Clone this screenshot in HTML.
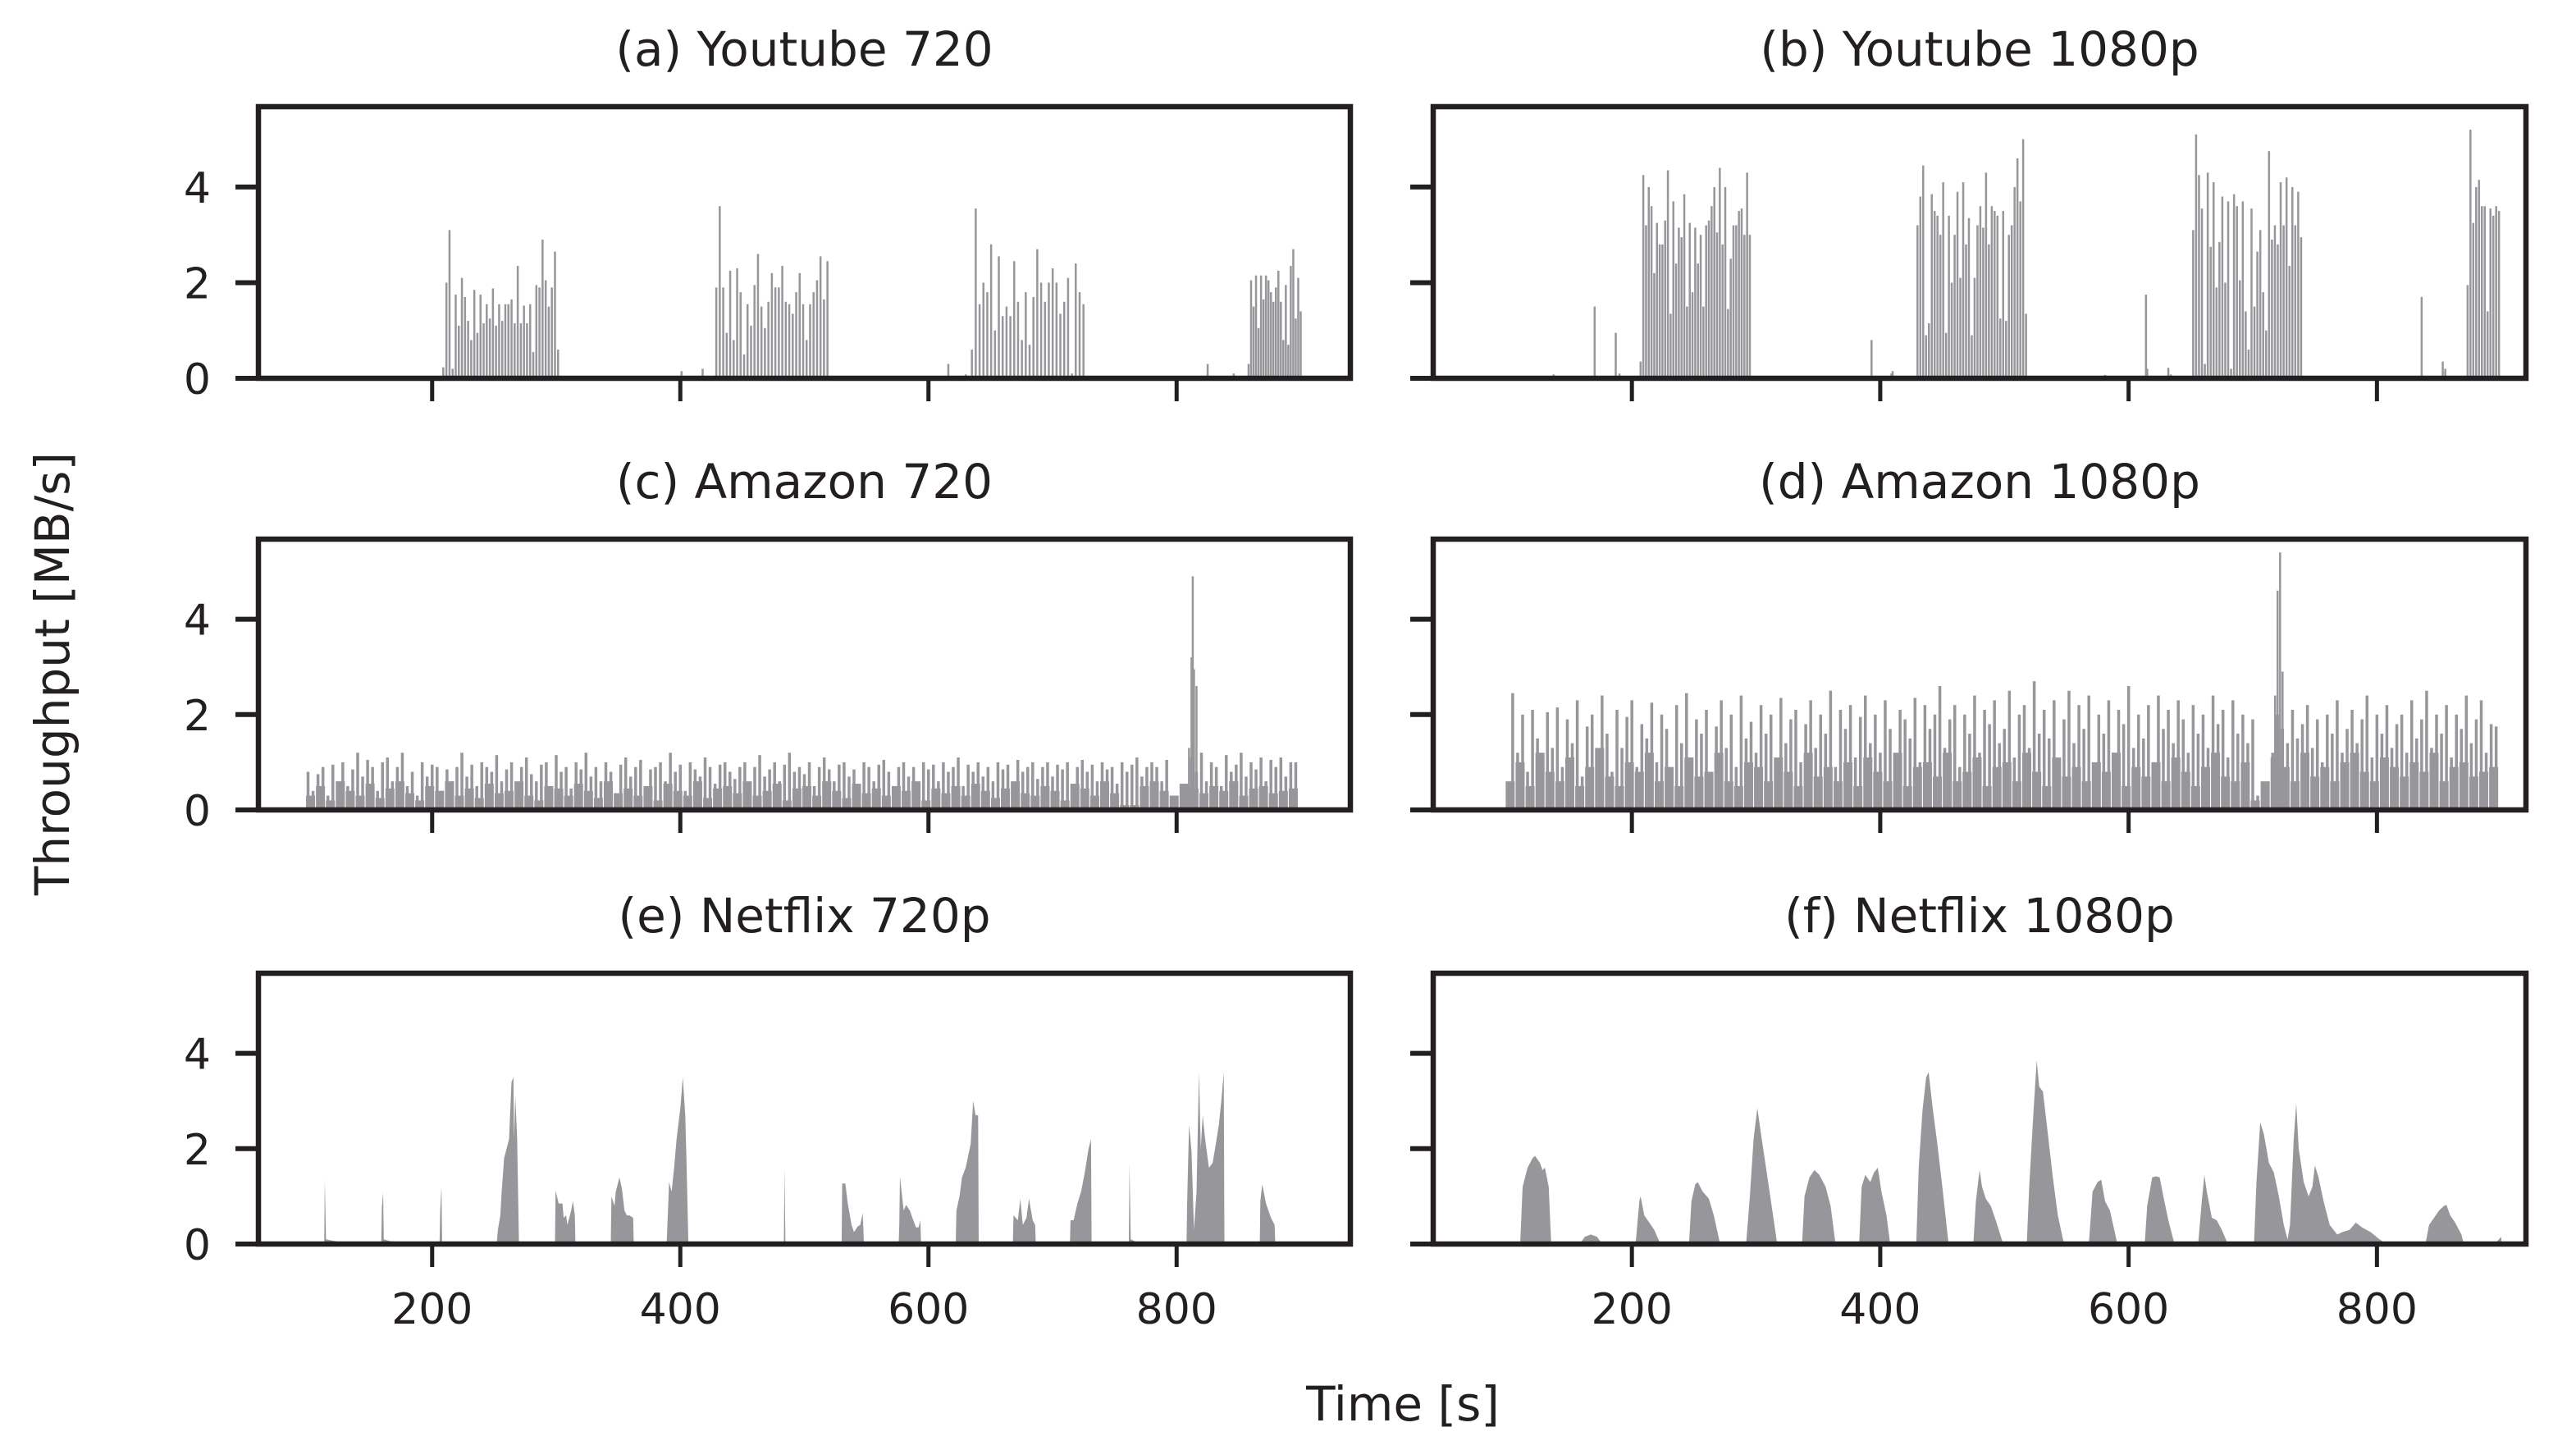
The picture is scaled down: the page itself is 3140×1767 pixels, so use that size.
<!DOCTYPE html>
<html><head><meta charset="utf-8"><style>
html,body{margin:0;padding:0;background:#fff;}
svg{display:block;font-family:"DejaVu Sans","Liberation Sans",sans-serif;}
</style></head><body>
<svg id="chart" width="3140" height="1767" viewBox="0 0 3140 1767" xmlns="http://www.w3.org/2000/svg"></svg>
<script>
// ---- data ----
const yTicks = [0, 2, 4];
const xTicks = [200, 400, 600, 800];
const titles = ["(a) Youtube 720", "(b) Youtube 1080p", "(c) Amazon 720", "(d) Amazon 1080p", "(e) Netflix 720p", "(f) Netflix 1080p"];

// Youtube 720 bursts
const yt720Start = [209, 429, 635, 858];
const yt720Step = [2.5, 2.8, 3.1, 2.0];
const yt720Vals = [
 [0.23,2.0,3.1,0.2,1.75,1.1,2.1,1.7,1.2,0.8,1.85,0.95,1.75,1.15,1.55,1.25,1.88,1.1,1.55,1.2,1.55,1.55,1.65,1.15,2.35,1.15,1.52,1.15,1.55,0.55,1.95,1.9,2.9,2.05,1.5,1.9,2.65,0.6],
 [1.9,3.6,1.9,0.95,2.25,0.8,2.3,1.8,0.5,1.55,1.1,1.95,2.6,1.5,1.05,1.6,2.2,1.9,1.9,2.35,1.6,1.55,1.35,1.8,2.2,1.55,0.8,1.55,1.8,2.05,2.55,1.65,2.45],
 [0.6,3.55,1.55,2.0,1.8,2.8,1.0,2.55,1.3,1.5,1.3,2.45,1.6,0.8,1.8,0.7,1.7,2.7,2.0,1.6,2.0,2.3,2.0,1.35,1.6,2.1,0.1,2.4,1.8,1.55],
 [0.3,2.05,1.5,2.15,1.05,2.15,1.65,2.15,2.05,1.8,1.6,1.9,2.25,1.6,0.8,1.95,0.7,2.35,2.7,1.25,2.1,1.4]
];
const yt720SingleT = [401, 418, 616, 628, 630, 825, 846];
const yt720SingleV = [0.15, 0.2, 0.3, 0.05, 0.08, 0.3, 0.1];

// Youtube 1080p bursts
const yt1080Start = [207, 430, 652, 873];
const yt1080Step = [2.2, 2.3, 2.35, 2.3];
const yt1080Vals = [
 [0.35,4.25,3.2,4.0,3.6,2.2,3.25,2.8,2.8,3.3,4.35,1.35,3.7,2.4,3.15,2.95,3.85,1.5,3.25,1.8,3.15,2.4,3.0,1.5,3.2,3.3,3.6,4.0,3.05,4.4,2.8,4.0,1.45,2.5,3.2,3.2,3.5,3.55,3.0,4.3,3.0],
 [3.2,3.8,4.45,0.9,1.15,3.85,3.5,3.4,3.0,4.1,0.95,3.4,2.0,3.0,3.9,2.1,4.1,2.8,3.35,0.9,2.1,3.2,3.6,3.15,4.3,2.8,3.6,3.5,3.4,1.25,3.5,1.2,3.0,3.2,4.0,4.6,3.7,5.0,1.35],
 [3.1,5.1,4.25,3.55,0.3,4.3,2.75,4.1,1.9,2.85,3.8,2.0,3.7,0.2,3.85,3.6,2.05,3.7,1.4,0.6,3.55,1.5,2.65,3.1,1.8,1.0,4.75,2.9,3.2,2.8,4.1,3.2,4.2,2.35,4.0,3.2,3.9,2.95],
 [1.95,5.2,3.25,4.0,4.15,3.6,3.6,1.4,3.55,3.4,3.6,3.5]
];
const yt1080SingleT = [137, 170, 187, 190, 393, 409, 410, 581, 614, 615, 632, 634, 836, 853, 855];
const yt1080SingleV = [0.08, 1.5, 0.95, 0.1, 0.8, 0.1, 0.15, 0.07, 1.75, 0.2, 0.22, 0.08, 1.7, 0.35, 0.2];

// Amazon 720 (every 4 s from 100 s)
const amz720Start = 100, amz720Step = 4;
const amz720Vals = [
 0.8,0.4,0.75,0.9,0.3,0.95,0.6,1.0,0.5,0.85,
 1.2,0.7,1.05,0.9,0.4,1.0,1.1,0.6,0.9,1.2,
 0.5,0.8,0.3,1.0,0.7,0.95,0.9,0.4,0.85,0.6,
 0.9,1.2,0.7,0.95,0.5,1.0,0.9,0.8,1.15,0.6,
 0.85,1.0,0.4,0.9,1.1,0.75,0.6,0.95,1.0,0.5,
 1.15,0.8,0.9,0.45,1.0,0.85,1.2,0.7,0.9,0.6,
 1.0,0.8,0.35,0.95,1.1,0.7,0.9,1.05,0.5,0.85,
 0.9,1.0,0.6,1.2,0.8,0.95,0.4,1.0,0.85,0.7,
 1.1,0.9,0.55,0.95,1.0,0.8,0.65,0.9,1.0,0.5,
 0.9,1.15,0.7,0.85,1.0,0.6,0.95,1.2,0.8,0.9,
 0.75,1.0,0.5,0.9,1.1,0.85,0.6,0.95,1.0,0.7,
 0.85,0.4,1.0,0.9,0.6,0.95,1.05,0.8,0.5,0.9,
 1.0,0.7,0.9,0.45,1.0,0.85,0.95,0.6,1.0,0.8,
 0.9,1.1,0.5,0.95,0.8,1.0,0.7,0.9,0.6,1.0,
 0.85,0.95,0.4,1.05,0.8,0.9,1.0,0.65,0.9,1.0,
 0.7,0.95,0.85,1.0,0.5,0.9,1.05,0.8,0.95,0.6,
 1.0,0.85,0.9,0.55,1.0,0.8,0.95,1.1,0.7,0.9,
 1.0,0.9,0.6,1.05,0.2,0.25,0.1,0.3,1.1,0.8,
 1.2,0.6,1.0,0.9,0.5,1.15,0.8,0.95,1.2,0.7,
 1.0,0.85,1.1,0.6,1.05,0.9,1.1,0.7,1.0,1.0
];
// Amazon 720 lower dense layer (every 8 s from 102 s)
const amz720FloorStart = 102, amz720FloorStep = 8;
const amz720Floor = [
 0.3,0.5,0.2,0.6,0.4,0.3,0.55,0.25,0.45,0.6,
 0.35,0.2,0.5,0.4,0.6,0.3,0.45,0.25,0.55,0.35,
 0.4,0.6,0.3,0.2,0.5,0.45,0.3,0.55,0.4,0.25,
 0.6,0.35,0.45,0.3,0.5,0.2,0.55,0.4,0.3,0.6,
 0.25,0.45,0.5,0.35,0.6,0.3,0.4,0.55,0.2,0.45,
 0.5,0.3,0.6,0.4,0.25,0.55,0.35,0.45,0.3,0.5,
 0.4,0.6,0.2,0.45,0.35,0.5,0.3,0.55,0.4,0.25,
 0.45,0.6,0.35,0.3,0.5,0.4,0.2,0.55,0.45,0.3,
 0.6,0.35,0.1,0.1,0.5,0.6,0.4,0.3,0.55,0.45,
 0.35,0.5,0.4,0.6,0.3,0.45,0.5,0.35,0.4,0.45
];
const amz720SpikeT = [810, 812, 813, 814, 816];
const amz720SpikeV = [1.3, 3.2, 4.9, 2.95, 2.6];

// Amazon 1080p
const amz1080Start = 100, amz1080Step = 4;
const amz1080Vals = [
 0.5,2.45,1.2,2.0,0.8,2.1,1.5,1.0,2.05,1.3,
 2.15,0.9,1.9,1.4,2.3,0.7,1.75,2.0,1.1,2.4,
 1.6,0.8,2.1,1.3,1.95,2.3,0.9,1.8,1.5,2.25,
 1.0,2.0,1.7,0.6,2.2,1.4,2.45,1.1,1.9,1.6,
 2.1,0.8,1.75,2.3,1.3,2.0,0.9,2.4,1.5,1.85,
 1.2,2.2,1.6,2.0,0.7,2.35,1.4,1.9,2.1,1.0,
 1.8,2.3,1.3,2.0,1.6,2.5,0.9,2.1,1.7,2.2,
 1.1,1.95,2.4,1.4,2.0,1.2,2.3,1.7,0.8,2.1,
 1.9,1.5,2.35,1.0,2.2,1.7,2.0,2.6,1.3,1.9,
 2.2,0.9,2.0,1.6,2.4,1.2,2.1,1.8,2.3,1.4,
 1.7,2.5,1.1,2.0,2.2,1.3,2.7,1.6,2.1,1.5,
 2.3,1.0,1.9,2.5,1.4,2.2,1.7,2.4,0.9,2.0,
 1.6,2.3,1.2,2.1,1.8,2.6,1.3,2.0,1.5,2.2,
 1.0,2.4,1.7,2.1,1.4,2.3,1.9,1.2,2.2,1.6,
 2.0,1.3,2.4,1.8,2.1,1.1,2.3,1.6,2.0,1.4,
 1.9,0.3,0.3,0.3,1.2,2.0,1.7,1.4,2.1,1.5,
 1.8,2.2,1.3,1.9,1.0,2.0,1.6,2.3,1.2,1.7,
 2.1,1.4,1.9,2.4,1.1,2.0,1.6,2.2,1.3,1.8,
 2.0,1.2,2.3,1.5,1.9,2.5,1.3,2.0,1.6,2.2,
 1.1,2.0,1.7,2.4,1.4,1.9,2.3,1.2,1.8,1.75
];
const amz1080FloorStart = 102, amz1080FloorStep = 8;
const amz1080Floor = [
 0.6,1.0,0.5,1.2,0.8,0.6,1.1,0.5,0.9,1.3,
 0.7,0.5,1.0,0.8,1.2,0.6,0.9,0.5,1.1,0.7,
 0.8,1.2,0.6,0.5,1.0,0.9,0.6,1.1,0.8,0.5,
 1.2,0.7,0.9,0.6,1.0,0.5,1.1,0.8,0.6,1.2,
 0.5,0.9,1.0,0.7,1.2,0.6,0.8,1.1,0.5,0.9,
 1.0,0.6,1.2,0.8,0.5,1.1,0.7,0.9,0.6,1.0,
 0.8,1.2,0.5,0.9,0.7,1.0,0.6,1.1,0.8,0.5,
 0.9,1.2,0.7,0.6,1.0,0.2,0.6,1.1,0.9,0.6,
 1.2,0.7,0.9,0.6,1.0,1.2,0.8,0.6,1.1,0.9,
 0.7,1.0,0.8,1.2,0.6,0.9,1.0,0.7,0.8,0.9
];
const amz1080SpikeT = [718, 720, 722, 724];
const amz1080SpikeV = [2.4, 4.6, 5.4, 2.9];

// Netflix 720p segments [time, value]
const nf720Segs = [
 [[113,0],[113.5,1.36],[114.5,0.1],[118,0.08],[124,0.05],[131,0.03],[131.5,0]],
 [[159,0],[159.5,0.78],[160.5,1.08],[161,0.1],[166,0.06],[172,0.05],[178,0.03],[178.5,0]],
 [[206,0],[206.5,0.7],[207.5,1.2],[208,0.05],[211,0.03],[211.5,0]],
 [[252,0],[253,0.3],[255,0.6],[256,1.1],[258,1.8],[260,2.0],[262,2.2],[264,3.4],[265.5,3.5],[266,2.2],[267,3.1],[268.5,2.2],[270,0]],
 [[299,0],[299.5,1.12],[302,0.85],[305,0.85],[306,0.55],[308,0.6],[309,0.4],[312,0.7],[313.5,0.9],[315,0.6],[315.5,0]],
 [[344,0],[344.5,1.0],[347,0.8],[348,1.1],[351,1.4],[353,1.15],[355,0.7],[357,0.6],[359,0.6],[362,0.55],[362.5,0]],
 [[389,0],[389.5,0.35],[391,1.3],[393,1.1],[395,1.6],[397,2.2],[400,2.85],[402,3.5],[404,2.7],[405,1.75],[406.5,0]],
 [[483.5,0],[484,1.6],[484.7,0]],
 [[530,0],[530.5,1.27],[533,1.27],[535,0.85],[538,0.4],[540,0.25],[543,0.37],[545,0.4],[547,0.65],[548,0]],
 [[576,0],[576.5,0.4],[577,1.42],[580,0.7],[582,0.82],[585,0.7],[587,0.55],[590,0.35],[592,0.35],[593.5,0.5],[594,0]],
 [[622,0],[622.5,0.7],[625,1.0],[627,1.4],[630,1.6],[634,2.1],[636,3.0],[638,2.7],[640,2.7],[640.5,0]],
 [[668,0],[668.5,0.6],[672,0.5],[674,0.95],[676,0.4],[679,0.55],[681,0.95],[684,0.5],[686,0.4],[686.5,0]],
 [[714,0],[714.5,0.5],[717,0.5],[720,0.85],[723,1.1],[726,1.5],[729,2.0],[731,2.2],[731.5,0]],
 [[761.5,0],[762,1.68],[763,0.1],[767,0.05],[772,0.03],[772.5,0]],
 [[808,0],[808.5,0.9],[810,2.5],[812,1.95],[814,0.3],[816,1.1],[818,3.6],[819.5,2.0],[821,2.7],[823,2.2],[826,1.6],[829,1.7],[831,2.0],[834,2.5],[836,3.0],[838,3.6],[838.5,0]],
 [[867,0],[867.5,0.9],[869,1.25],[872,0.85],[874,0.7],[876,0.55],[879,0.4],[879.5,0]]
];

// Netflix 1080p segments
const nf1080Segs = [
 [[110,0],[112,1.2],[116,1.6],[120,1.8],[122,1.85],[126,1.7],[128,1.55],[130,1.6],[133,1.2],[135,0]],
 [[158,0],[162,0.15],[167,0.2],[172,0.15],[176,0]],
 [[203,0],[206,0.9],[207,1.0],[210,0.6],[214,0.45],[218,0.3],[223,0]],
 [[246,0],[248,0.9],[251,1.25],[253,1.3],[257,1.1],[262,0.95],[266,0.6],[271,0]],
 [[292,0],[295,1.0],[298,2.2],[301,2.85],[304,2.3],[308,1.6],[312,0.9],[317,0]],
 [[337,0],[339,1.0],[343,1.4],[347,1.55],[351,1.45],[356,1.2],[360,0.8],[364,0]],
 [[383,0],[385,1.2],[388,1.45],[392,1.3],[395,1.5],[398,1.6],[401,1.1],[405,0.6],[408,0]],
 [[429,0],[431,1.6],[434,2.8],[437,3.5],[439,3.6],[442,2.9],[446,2.1],[450,1.2],[455,0]],
 [[475,0],[477,0.9],[480,1.55],[482,1.2],[485,0.95],[489,0.8],[493,0.5],[499,0]],
 [[518,0],[520,1.2],[523,2.6],[526,3.85],[528,3.3],[531,3.2],[535,2.3],[539,1.4],[543,0.6],[548,0]],
 [[568,0],[571,1.1],[575,1.3],[578,1.35],[581,0.9],[585,0.7],[591,0]],
 [[613,0],[615,0.8],[619,1.4],[622,1.42],[625,1.4],[628,1.0],[632,0.5],[637,0]],
 [[656,0],[659,0.9],[661,1.45],[663,1.1],[667,0.55],[671,0.5],[675,0.3],[680,0]],
 [[701,0],[703,1.3],[706,2.55],[709,2.3],[713,1.7],[717,1.5],[721,1.0],[725,0.4],[728,0.1],[730,0.4],[733,2.2],[735,2.95],[737,2.0],[741,1.3],[745,1.0],[748,1.2],[750,1.65],[753,1.4],[757,0.9],[762,0.4],[768,0.2],[772,0.25],[778,0.3],[783,0.45],[788,0.35],[795,0.25],[802,0.1],[808,0]],
 [[839,0],[842,0.4],[846,0.55],[850,0.7],[854,0.8],[856,0.82],[859,0.6],[863,0.45],[868,0.2],[870,0]],
 [[895,0],[900,0.15],[900.5,0]]
];

// ---- layout ----
const NS = "http://www.w3.org/2000/svg";
const svg = document.getElementById("chart");
const COLS = [{L:315, R:1646, x0:60, x1:940}, {L:1747, R:3079, x0:40, x1:920}];
const ROWS = [{T:130, B:461}, {T:657, B:987}, {T:1186, B:1516}];
const YMAX = 5.68;
const BAR = "#97979b", INK = "#231f20";

function mk(tag, attrs, parent) {
  const e = document.createElementNS(NS, tag);
  for (const k in attrs) e.setAttribute(k, attrs[k]);
  (parent || svg).appendChild(e);
  return e;
}

function panel(idx) {
  const c = COLS[idx % 2], r = ROWS[Math.floor(idx / 2)];
  const xs = t => c.L + (t - c.x0) / (c.x1 - c.x0) * (c.R - c.L);
  const ys = v => r.B - v / YMAX * (r.B - r.T);
  const g = mk("g", {});
  
  
  const cp = mk("clipPath", {id: "clip" + idx}, g);
  mk("rect", {x: c.L, y: r.T, width: c.R - c.L, height: r.B - r.T}, cp);
  const data = mk("g", {"clip-path": "url(#clip" + idx + ")"}, g);
  
  
  return {c, r, xs, ys, g, data};
}

function bar(p, t, v, w) {
  const x = p.xs(t), y = p.ys(v);
  const b = mk("rect", {x: x - w / 2, y: y, width: w, height: p.r.B - y, fill: BAR}, p.data);
  
  
}

function bursts(p, starts, steps, vals, sT, sV, w) {
  for (let i = 0; i < starts.length; i++)
    vals[i].forEach((v, j) => bar(p, starts[i] + j * steps[i], v, w));
  sT.forEach((t, i) => bar(p, t, sV[i], w));
}

function areas(p, segs) {
  segs.forEach(seg => {
    const pts = seg.map(([t, v]) => p.xs(t).toFixed(1) + "," + p.ys(v).toFixed(1)).join(" ");
    const a = mk("polygon", {points: pts, fill: BAR}, p.data);
    
    
  });
}

function frame(p, idx) {
  const {c, r, xs, ys, g} = p;
  const row = Math.floor(idx / 2), col = idx % 2;
  yTicks.forEach(v => {
    const t = mk("line", {x1: c.L - 28, x2: c.L, y1: ys(v), y2: ys(v), stroke: INK, "stroke-width": 6}, g);
    
    
    if (col === 0) {
      const l = mk("text", {x: c.L - 58, y: ys(v) + 19, "text-anchor": "end", "font-size": 52, fill: INK}, g);
      l.textContent = v;
      
      
    }
  });
  xTicks.forEach(tv => {
    const t = mk("line", {x1: xs(tv), x2: xs(tv), y1: r.B, y2: r.B + 28, stroke: INK, "stroke-width": 5}, g);
    
    
    if (row === 2) {
      const l = mk("text", {x: xs(tv), y: 1613, "text-anchor": "middle", "font-size": 52, fill: INK}, g);
      l.textContent = tv;
      
      
    }
  });
  const f = mk("rect", {x: c.L, y: r.T, width: c.R - c.L, height: r.B - r.T, fill: "none", stroke: INK, "stroke-width": 6.5}, g);
  
  
  const ti = mk("text", {x: (c.L + c.R) / 2, y: r.T - 50, "text-anchor": "middle", "font-size": 58, fill: INK}, g);
  ti.textContent = titles[idx];
  
  
}

const panels = [0,1,2,3,4,5].map(panel);
bursts(panels[0], yt720Start, yt720Step, yt720Vals, yt720SingleT, yt720SingleV, 2.5);
bursts(panels[1], yt1080Start, yt1080Step, yt1080Vals, yt1080SingleT, yt1080SingleV, 2.5);
amz720Floor.forEach((v, i) => bar(panels[2], amz720FloorStart + i * amz720FloorStep, v, 11));
amz720Vals.forEach((v, i) => bar(panels[2], amz720Start + i * amz720Step, v, 3.5));
amz720SpikeT.forEach((t, i) => bar(panels[2], t, amz720SpikeV[i], 2.5));
amz1080Floor.forEach((v, i) => bar(panels[3], amz1080FloorStart + i * amz1080FloorStep, v, 11));
amz1080Vals.forEach((v, i) => bar(panels[3], amz1080Start + i * amz1080Step, v, 3.5));
amz1080SpikeT.forEach((t, i) => bar(panels[3], t, amz1080SpikeV[i], 2.5));
areas(panels[4], nf720Segs);
areas(panels[5], nf1080Segs);
panels.forEach(frame);

const xl = mk("text", {x: 1710, y: 1731, "text-anchor": "middle", "font-size": 58, fill: INK});
xl.textContent = "Time [s]";


const yl = mk("text", {x: 0, y: 0, "text-anchor": "middle", "font-size": 58, fill: INK, transform: "translate(84,821) rotate(-90)"});
yl.textContent = "Throughput [MB/s]";


</script>
</body></html>
